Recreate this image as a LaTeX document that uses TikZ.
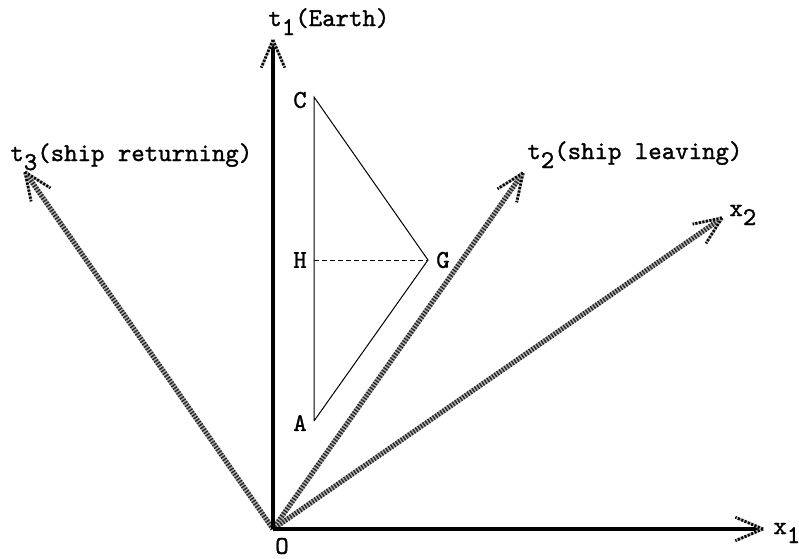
\documentclass[tikz,border=0pt]{standalone}
\usepackage{fontspec}
\setmonofont{lmmono10-regular.otf}[FakeBold=1.2]
\usetikzlibrary{calc}

\begin{document}
\begin{tikzpicture}[x=0.5pt, y=-0.5pt, font=\ttfamily\fontsize{12.8}{14}\selectfont]
    % Styles
    \tikzstyle{axis} = [draw=black, line width=1.7pt]
    \tikzstyle{ray} = [draw=gray!60, line width=2.5pt, postaction={draw=black!85, line width=2.5pt, dash pattern=on 0.7pt off 0.8pt}]
    \tikzstyle{barb} = [draw=gray!60, line width=1.4pt, postaction={draw=black, line width=1.4pt, dash pattern=on 1pt off 0.8pt}]
    \tikzstyle{thin} = [draw=black, line width=0.5pt]
    \tikzstyle{lbl} = [inner sep=0pt, anchor=base west]

    \useasboundingbox (0,0) rectangle (799,558);

    % Origin and tips
    \coordinate (O) at (273,529);
    \coordinate (t1tip) at (273,40);
    \coordinate (x1tip) at (763,529);
    \coordinate (t2tip) at (523,173);
    \coordinate (t3tip) at (25,172);
    \coordinate (x2tip) at (722,218);

    % Triangle points
    \coordinate (C) at (314,97);
    \coordinate (H) at (314,260);
    \coordinate (A) at (314,421);
    \coordinate (G) at (428,260);

    % Rays (ship frames)
    \draw [ray] (O) -- (t3tip);
    \draw [ray] (O) -- (t2tip);
    \draw [ray] (O) -- (x2tip);

    % Earth axes
    \draw [axis] (O) -- (t1tip);
    \draw [axis] (O) -- (x1tip);

    % Arrow barbs
    \foreach \t in {t1tip, x1tip, t2tip, t3tip, x2tip} {
        \draw [barb] (\t) -- ($(\t)!15pt!23:(O)$);
        \draw [barb] (\t) -- ($(\t)!15pt!-23:(O)$);
    }

    % Triangle
    \draw [thin] (A) -- (C) -- (G) -- (A);
    \draw [thin, dash pattern=on 2.5pt off 1.5pt] (H) -- (G);

    % Labels
    \node (t1lbl) [lbl] at (268,26) {t\raisebox{-4.5pt}{1}(Earth)};
    \node (t3lbl) [lbl] at (10,161) {t\raisebox{-4.5pt}{3}(ship returning)};
    \node (t2lbl) [lbl] at (527,159) {t\raisebox{-4.5pt}{2}(ship leaving)};
    \node (x2lbl) [lbl] at (729,216) {x\raisebox{-4.5pt}{2}};
    \node (x1lbl) [lbl] at (773,534) {x\raisebox{-4.5pt}{1}};

    \node (Clbl) at (300,100) {C};
    \node (Hlbl) at (300,260) {H};
    \node (Albl) at (300,423) {A};
    \node (Glbl) at (443,260) {G};
    \node (Olbl) at (282,546) {O};

\end{tikzpicture}
\end{document}
